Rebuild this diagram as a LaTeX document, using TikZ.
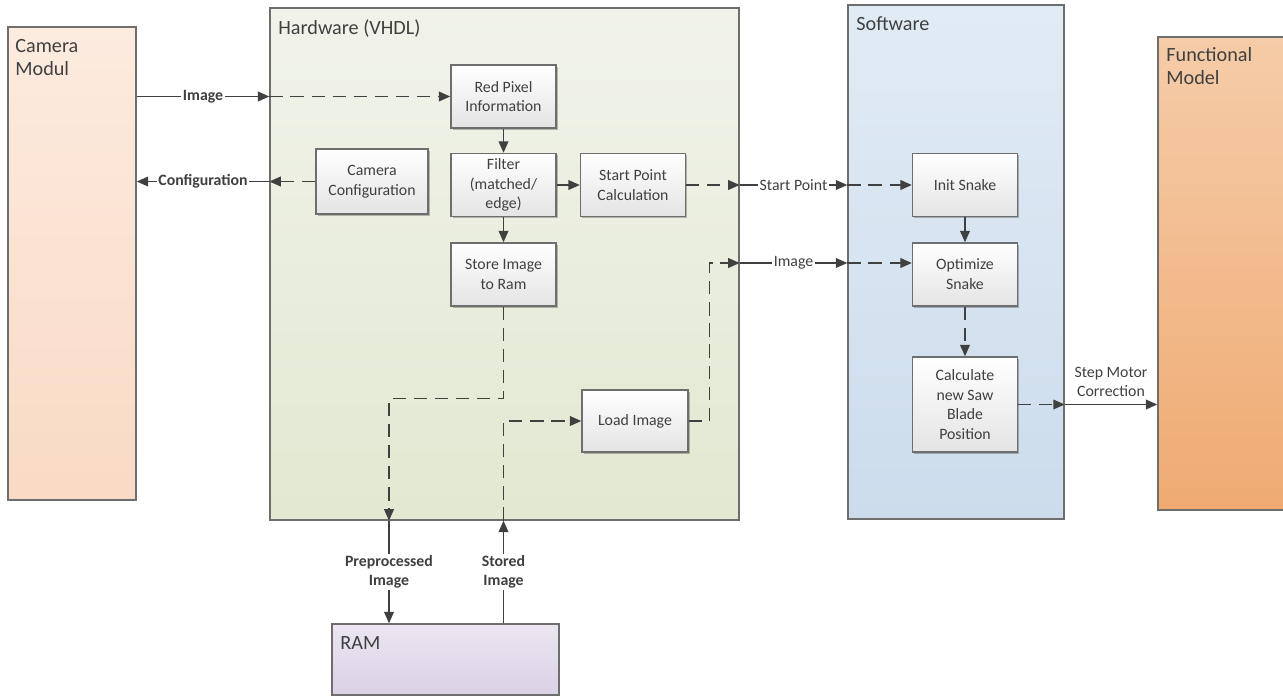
\documentclass[tikz,border=0pt]{standalone}
\usepackage{fontspec}
\setmainfont{Carlito}
\usetikzlibrary{arrows.meta,shadows}
\definecolor{ink}{HTML}{404040}
\definecolor{frame}{HTML}{6E6E6E}
\definecolor{camtop}{HTML}{FCEBDF}
\definecolor{cambot}{HTML}{F9DAC4}
\definecolor{hwtop}{HTML}{F1F3EA}
\definecolor{hwbot}{HTML}{E2E8D1}
\definecolor{swtop}{HTML}{E1EBF5}
\definecolor{swbot}{HTML}{CCDCEC}
\definecolor{fmtop}{HTML}{F5CCA8}
\definecolor{fmbot}{HTML}{EFAA72}
\definecolor{ramtop}{HTML}{EBE6F1}
\definecolor{rambot}{HTML}{DAD1E5}
\definecolor{blockbot}{HTML}{E4E4E4}

\begin{document}
\begin{tikzpicture}[x=0.02cm,y=-0.02cm,
  group/.style={draw=frame,line width=0.8pt,inner sep=0pt},
  block/.style={draw=frame,line width=0.8pt,top color=white,bottom color=blockbot,
    minimum width=2.1cm,minimum height=1.26cm,align=center,text=ink,
    font=\fontsize{9}{11.3}\selectfont,inner sep=1pt,
    drop shadow={shadow xshift=1pt,shadow yshift=-1pt,opacity=0.25,fill=black}},
  title/.style={anchor=north west,align=left,text=ink,font=\fontsize{11.5}{13}\selectfont,inner sep=0pt},
  flow/.style={-{Triangle[length=6.5pt,width=5.5pt]},line width=0.9pt,draw=ink},
  dflow/.style={flow,dash pattern=on 7.5pt off 4.5pt},
  tag/.style={fill=white,text=ink,inner sep=1pt,align=center,font=\fontsize{9}{10.8}\selectfont},
  tagb/.style={tag,font=\fontsize{9}{10.8}\selectfont\bfseries}]
  \useasboundingbox (0,0) rectangle (1283,697);

  % ---- groups ----
  \node[group,top color=camtop,bottom color=cambot,minimum width=2.56cm,minimum height=9.46cm] (cam) at (72,263.5) {};
  \node[group,top color=hwtop,bottom color=hwbot,minimum width=9.38cm,minimum height=10.24cm] (hw) at (504.5,264) {};
  \node[group,top color=swtop,bottom color=swbot,minimum width=4.32cm,minimum height=10.28cm] (sw) at (956,262) {};
  \node[group,top color=fmtop,bottom color=fmbot,minimum width=2.64cm,minimum height=9.46cm] (fm) at (1224,273.5) {};
  \node[group,top color=ramtop,bottom color=rambot,minimum width=4.54cm,minimum height=1.42cm] (ram) at (445.5,659.5) {};
  \node[title] (camtitle) at (15,39) {Camera\\Modul};
  \node[title] (hwtitle) at (278,19) {Hardware (VHDL)};
  \node[title] (swtitle) at (856,16) {Software};
  \node[title] (fmtitle) at (1166,47) {Functional\\Model};
  \node[title] (ramtitle) at (340,636) {RAM};

  % ---- hardware blocks ----
  \node[block] (red) at (503.5,96.5) {Red Pixel\\Information};
  \node[block] (filter) at (503.5,185) {Filter\\(matched/\\edge)};
  \node[block] (store) at (503.5,274.5) {Store Image\\to Ram};
  \node[block] (spc) at (633,185) {Start Point\\Calculation};
  \node[block,minimum width=2.24cm,minimum height=1.3cm] (camcfg) at (372,181.5) {Camera\\Configuration};
  \node[block,minimum width=2.12cm,minimum height=1.24cm] (load) at (635,421) {Load Image};

  % ---- software blocks ----
  \node[block] (init) at (965,185) {Init Snake};
  \node[block] (opt) at (965,274.5) {Optimize\\Snake};
  \node[block,minimum height=1.9cm] (calc) at (965,404.5) {Calculate\\new Saw\\Blade\\Position};

  % ---- camera <-> hardware ----
  \coordinate (imgin) at (hw.west |- red);
  \draw[flow] (cam.east |- red) -- node[tagb] {Image} (imgin);
  \draw[dflow] (imgin) -- (red);
  \coordinate (cfgout) at (hw.west |- camcfg);
  \draw[dflow] (camcfg) -- (cfgout);
  \draw[flow] (cfgout) -- node[tagb] {Configuration} (cam.east |- camcfg);

  % ---- inside hardware ----
  \draw[flow] (red) -- (filter);
  \draw[flow] (filter) -- (store);
  \draw[flow] (filter) -- (spc);

  % ---- hardware -> software ----
  \coordinate (spout) at (hw.east |- spc);
  \coordinate (spin) at (sw.west |- spc);
  \draw[dflow] (spc) -- (spout);
  \draw[flow] (spout) -- node[tag] {Start Point} (spin);
  \draw[dflow] (spin) -- (init);
  \coordinate (imgy) at (0,263);
  \coordinate (imgout) at (hw.east |- imgy);
  \coordinate (imgsw) at (sw.west |- imgy);
  \draw[dflow] (load.east) -- ++(21,0) |- (imgout);
  \draw[flow] (imgout) -- node[tag] {Image} (imgsw);
  \draw[dflow] (imgsw) -- (opt.west |- imgy);

  % ---- inside software ----
  \draw[flow] (init) -- (opt);
  \draw[dflow] (opt) -- (calc);
  \coordinate (stepout) at (sw.east |- calc);
  \draw[dflow] (calc) -- (stepout);
  \draw[flow] (stepout) -- node[tag,fill=none,above=3pt] {Step Motor\\Correction} (fm.west |- calc);

  % ---- hardware <-> RAM ----
  \coordinate (ppx) at (389,0);
  \coordinate (ppout) at (hw.south -| ppx);
  \draw[dflow] (store.south) -- ++(0,92) -| (ppout);
  \draw[flow] (ppout) -- node[tagb] {Preprocessed\\Image} (ram.north -| ppout);
  \coordinate (stin) at (hw.south -| store);
  \draw[flow] (ram.north -| stin) -- node[tagb] {Stored\\Image} (stin);
  \draw[dflow] (stin) |- (load.west);
\end{tikzpicture}
\end{document}
